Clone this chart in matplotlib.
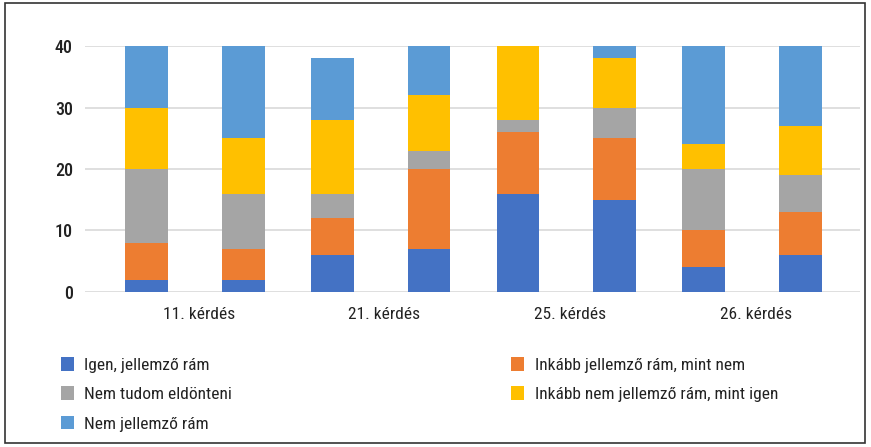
import numpy as np
import matplotlib.pyplot as plt
from matplotlib.patches import Rectangle

plt.rcParams['font.family'] = ['Roboto Condensed', 'DejaVu Sans']

groups = ['11. kérdés', '21. kérdés', '25. kérdés', '26. kérdés']
series = ['Igen, jellemző rám', 'Inkább jellemző rám, mint nem',
          'Nem tudom eldönteni', 'Inkább nem jellemző rám, mint igen',
          'Nem jellemző rám']
colors = ['#4472C4', '#ED7D31', '#A5A5A5', '#FFC000', '#5B9BD5']

# two bars per question, values per series (8 bars)
igen = [2, 2, 6, 7, 16, 15, 4, 6]
inkabb_igen = [6, 5, 6, 13, 10, 10, 6, 7]
nem_tudom = [12, 9, 4, 3, 2, 5, 10, 6]
inkabb_nem = [10, 9, 12, 9, 12, 8, 4, 8]
nem = [10, 15, 10, 8, 0, 2, 16, 13]
data = [igen, inkabb_igen, nem_tudom, inkabb_nem, nem]

pos = []
for g in range(len(groups)):
    pos += [g - 0.28, g + 0.24]
pos = np.array(pos)

fig = plt.figure(figsize=(8.71, 4.47), dpi=100)
ax = fig.add_axes([0.098, 0.347, 0.889, 0.55])

bottom = np.zeros(len(pos))
handles = []
for vals, c, name in zip(data, colors, series):
    b = ax.bar(pos, vals, width=0.23, bottom=bottom, color=c, label=name, zorder=3)
    handles.append(b)
    bottom += np.array(vals)

ax.set_ylim(0, 40)
ax.set_xlim(-0.61, 3.56)
ax.set_yticks([0, 10, 20, 30, 40])
ax.set_xticks(range(len(groups)))
ax.set_xticklabels(groups)
ax.yaxis.grid(True, color='#D9D9D9', linewidth=1.2, zorder=0)
ax.set_axisbelow(True)
for s in ax.spines.values():
    s.set_visible(False)
ax.tick_params(axis='both', length=0, labelsize=12.5, colors='#222222')
ax.tick_params(axis='y', labelsize=13, pad=9)
ax.tick_params(axis='x', pad=11)
for lbl in ax.get_yticklabels():
    lbl.set_fontweight('medium')

# legend in two columns placed like the reference
leg_kw = dict(loc='upper left', frameon=False, fontsize=12.5, handlelength=0.75,
              handleheight=0.85, handletextpad=0.6, labelspacing=0.78)
leg1 = fig.legend([handles[i] for i in (0, 2, 4)], [series[i] for i in (0, 2, 4)],
                  bbox_to_anchor=(0.052, 0.237), **leg_kw)
leg2 = fig.legend([handles[i] for i in (1, 3)], [series[i] for i in (1, 3)],
                  bbox_to_anchor=(0.569, 0.237), **leg_kw)
for lg in (leg1, leg2):
    for t in lg.get_texts():
        t.set_color('#222222')

fig.patches.append(Rectangle((0.006, 0.008), 0.987, 0.985, transform=fig.transFigure,
                             fill=False, edgecolor='#333333', linewidth=1.2))

fig.savefig('out.png', dpi=100)
